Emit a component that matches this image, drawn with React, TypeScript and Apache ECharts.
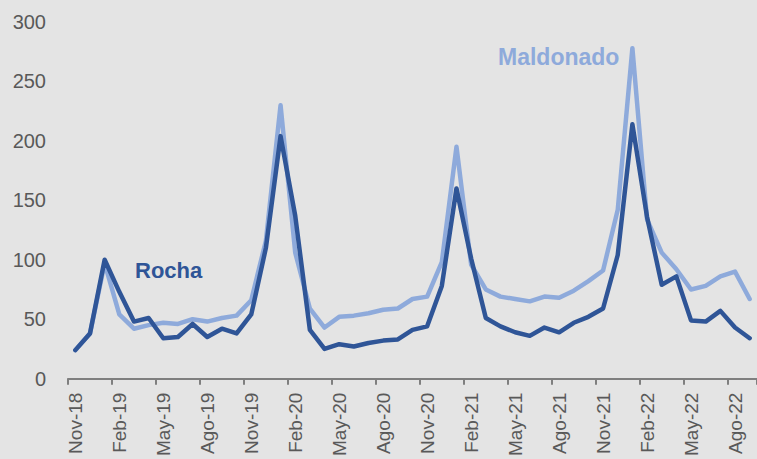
import React, { useEffect, useRef } from "react";
import * as echarts from "echarts";

// Monthly categories, Nov-18 through Set-22
const months: string[] = [
  "Nov-18", "Dic-18", "Ene-19", "Feb-19", "Mar-19", "Abr-19", "May-19", "Jun-19", "Jul-19", "Ago-19", "Set-19", "Oct-19",
  "Nov-19", "Dic-19", "Ene-20", "Feb-20", "Mar-20", "Abr-20", "May-20", "Jun-20", "Jul-20", "Ago-20", "Set-20", "Oct-20",
  "Nov-20", "Dic-20", "Ene-21", "Feb-21", "Mar-21", "Abr-21", "May-21", "Jun-21", "Jul-21", "Ago-21", "Set-21", "Oct-21",
  "Nov-21", "Dic-21", "Ene-22", "Feb-22", "Mar-22", "Abr-22", "May-22", "Jun-22", "Jul-22", "Ago-22", "Set-22",
];

const maldonado: number[] = [
  24, 38, 97, 54, 42, 45, 47, 46, 50, 48, 51, 53,
  66, 116, 230, 106, 59, 43, 52, 53, 55, 58, 59, 67,
  69, 98, 195, 96, 75, 69, 67, 65, 69, 68, 74, 82,
  91, 142, 278, 134, 106, 92, 75, 78, 86, 90, 67,
];

const rocha: number[] = [
  24, 38, 100, 73, 48, 51, 34, 35, 46, 35, 42, 38,
  54, 110, 204, 137, 41, 25, 29, 27, 30, 32, 33, 41,
  44, 78, 160, 101, 51, 44, 39, 36, 43, 39, 47, 52,
  59, 104, 214, 136, 79, 86, 49, 48, 57, 43, 34,
];

const yTicks = { min: 0, max: 300, interval: 50 };

const LIGHT = "#8eaadb";
const DARK = "#2f5597";
const TEXT = "#595959";
const FONT = "'Liberation Sans', Arial, sans-serif";

export default function App() {
  const ref = useRef<HTMLDivElement>(null);

  useEffect(() => {
    if (!ref.current) return;
    const chart = echarts.init(ref.current, undefined, { renderer: "svg" });
    chart.setOption({
      animation: false,
      backgroundColor: "#e4e4e4",
      grid: { left: 68, top: 22, bottom: 76, width: 694 },
      xAxis: {
        type: "category",
        data: months,
        boundaryGap: true,
        axisLine: { show: true, lineStyle: { color: "#7f7f7f", width: 2 } },
        axisTick: { show: true, interval: 2, length: 6, lineStyle: { color: "#7f7f7f", width: 2 } },
        axisLabel: {
          interval: 2,
          rotate: 90,
          margin: 14,
          color: TEXT,
          fontSize: 19,
          fontFamily: FONT,
        },
        splitLine: { show: false },
      },
      yAxis: {
        type: "value",
        min: yTicks.min,
        max: yTicks.max,
        interval: yTicks.interval,
        axisLine: { show: false },
        axisTick: { show: false },
        splitLine: { show: false },
        axisLabel: { color: TEXT, fontSize: 20, fontFamily: FONT, margin: 22 },
      },
      series: [
        {
          name: "Maldonado",
          type: "line",
          data: maldonado,
          symbol: "none",
          lineStyle: { color: LIGHT, width: 4.5, cap: "round", join: "round" },
          itemStyle: { color: LIGHT },
          z: 2,
        },
        {
          name: "Rocha",
          type: "line",
          data: rocha,
          symbol: "none",
          lineStyle: { color: DARK, width: 4.5, cap: "round", join: "round" },
          itemStyle: { color: DARK },
          z: 3,
        },
      ],
      graphic: [
        {
          type: "text",
          left: 498,
          top: 45,
          style: { text: "Maldonado", fill: LIGHT, font: `bold 23px ${FONT}` },
        },
        {
          type: "text",
          left: 135,
          top: 259,
          style: { text: "Rocha", fill: DARK, font: `bold 22px ${FONT}` },
        },
      ],
    });
    return () => chart.dispose();
  }, []);

  return (
    <div
      ref={ref}
      style={{ position: "fixed", left: 0, top: 0, width: 757, height: 459, overflow: "hidden" }}
    />
  );
}
